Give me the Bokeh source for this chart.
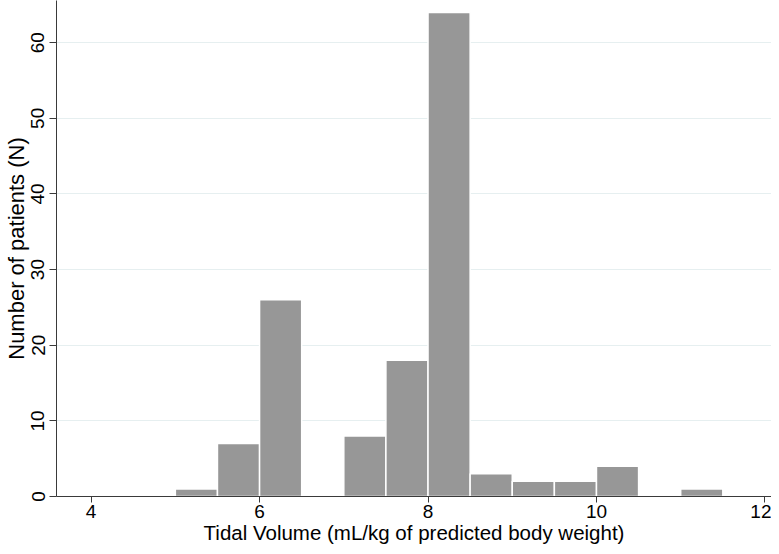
from bokeh.plotting import figure
from bokeh.models import Range1d, FixedTicker
from bokeh.embed import file_html
from bokeh.resources import INLINE

# Histogram data (bin width 0.5 mL/kg)
bin_left = [5.0, 5.5, 6.0, 6.5, 7.0, 7.5, 8.0, 8.5, 9.0, 9.5, 10.0, 10.5, 11.0]
counts = [1, 7, 26, 0, 8, 18, 64, 3, 2, 2, 4, 0, 1]
bin_width = 0.5
x_ticks = [4, 6, 8, 10, 12]
y_ticks = [0, 10, 20, 30, 40, 50, 60]
x_title = "Tidal Volume (mL/kg of predicted body weight)"
y_title = "Number of patients (N)"

FONT = "Liberation Sans"
bar_color = "#979797"
grid_color = "#e6eff0"
axis_color = "#3a3a3a"

lefts = [l for l, c in zip(bin_left, counts) if c > 0]
tops = [c for c in counts if c > 0]
rights = [l + bin_width for l in lefts]
bottoms = [0] * len(lefts)

p = figure(width=771, height=546, output_backend="svg", toolbar_location=None,
           x_range=Range1d(3.589, 12.078), y_range=Range1d(0, 65.58),
           min_border_left=56, min_border_right=0, min_border_top=0, min_border_bottom=49)
p.outline_line_color = None
p.background_fill_color = "white"
p.border_fill_color = "white"

p.quad(left=lefts, right=rights, bottom=bottoms, top=tops,
       fill_color=bar_color, line_color="white", line_width=1.5)

# x axis
xa = p.xaxis[0]
xa.ticker = FixedTicker(ticks=x_ticks)
xa.axis_label = x_title
xa.axis_label_text_font = FONT
xa.axis_label_text_font_size = "20.5px"
xa.axis_label_text_font_style = "normal"
xa.axis_label_text_color = "black"
xa.axis_label_standoff = 0
xa.major_label_text_font = FONT
xa.major_label_text_font_size = "19px"
xa.major_label_text_color = "black"
xa.major_label_standoff = 2
xa.major_tick_out = 6
xa.major_tick_in = 0
xa.minor_tick_line_color = None
xa.axis_line_color = axis_color
xa.major_tick_line_color = axis_color

# y axis
ya = p.yaxis[0]
ya.ticker = FixedTicker(ticks=y_ticks)
ya.axis_label = y_title
ya.axis_label_text_font = FONT
ya.axis_label_text_font_size = "22px"
ya.axis_label_text_font_style = "normal"
ya.axis_label_text_color = "black"
ya.axis_label_standoff = 0
ya.major_label_orientation = "vertical"
ya.major_label_text_font = FONT
ya.major_label_text_font_size = "19px"
ya.major_label_text_color = "black"
ya.major_label_standoff = 5
ya.major_tick_out = 7
ya.major_tick_in = 0
ya.minor_tick_line_color = None
ya.axis_line_color = axis_color
ya.major_tick_line_color = axis_color

p.xgrid.grid_line_color = None
p.ygrid.grid_line_color = grid_color
p.ygrid.grid_line_width = 1.2

open("out.html", "w").write(file_html(p, INLINE))
